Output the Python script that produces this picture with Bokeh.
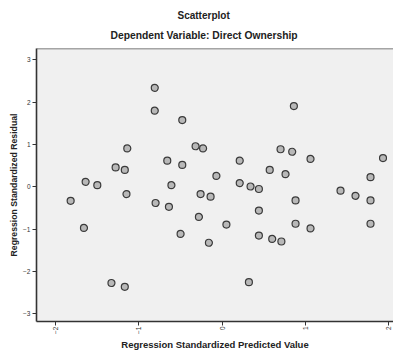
import math
from bokeh.plotting import figure
from bokeh.models import FixedTicker, Title, Range1d, Span
from bokeh.embed import file_html
from bokeh.resources import INLINE

# Data (standardized predicted value vs residual)
pred = [-0.81, -0.81, -0.48, -1.14, -0.32, -0.23, -0.66, -1.28, -1.17, -0.48,
        -0.07, -1.64, -1.50, -0.61, -1.82, -1.15, -0.26, -0.14, -0.80, -0.64,
        0.86, 0.70, 0.84, 1.06, 1.93, 0.21, 0.57, 0.76, 1.78, 0.21,
        0.34, 0.44, 1.42, 1.60, 1.78, 0.88, 0.44, -0.28, -1.66, -0.50,
        -0.16, 0.05, 0.44, 0.60, 0.71, 0.88, 1.06, 1.78, -1.33, -1.17, 0.32]
resid = [2.34, 1.80, 1.58, 0.91, 0.96, 0.91, 0.62, 0.46, 0.40, 0.52,
         0.26, 0.12, 0.04, 0.04, -0.33, -0.17, -0.17, -0.23, -0.38, -0.47,
         1.91, 0.89, 0.83, 0.66, 0.68, 0.62, 0.40, 0.30, 0.23, 0.09,
         0.01, -0.05, -0.09, -0.21, -0.32, -0.32, -0.56, -0.71, -0.97, -1.11,
         -1.32, -0.89, -1.15, -1.23, -1.29, -0.87, -0.98, -0.87, -2.27, -2.36, -2.25]
x_ticks = [-2, -1, 0, 1, 2]
y_ticks = [-3, -2, -1, 0, 1, 2, 3]
title_text = "Scatterplot"
subtitle_text = "Dependent Variable: Direct Ownership"
x_label = "Regression Standardized Predicted Value"
y_label = "Regression Standardized Residual"

FONT = "Liberation Sans"
Y_TOP = 3.27

p = figure(width=393, height=352, output_backend="svg", toolbar_location=None,
           x_range=Range1d(-2.23, 2.056), y_range=Range1d(-3.18, Y_TOP),
           min_border_left=36, min_border_right=0, min_border_top=48, min_border_bottom=30)

p.background_fill_color = "#f0f0f0"
p.border_fill_color = "white"
p.outline_line_color = None
p.xgrid.visible = False
p.ygrid.visible = False
p.add_layout(Span(location=Y_TOP, dimension="width", line_color="#555555", line_width=1.5))

sub = Title(text=subtitle_text, align="left", text_font=FONT, text_font_size="10.3px",
            text_font_style="bold", text_color="#222222", offset=74, standoff=15)
p.add_layout(sub, "above")
ttl = Title(text=title_text, align="left", text_font=FONT, text_font_size="10px",
            text_font_style="bold", text_color="#222222", offset=141, standoff=-1)
p.add_layout(ttl, "above")

for ax in (p.xaxis[0], p.yaxis[0]):
    ax.axis_line_color = "#333333"
    ax.axis_line_width = 1.6
    ax.major_tick_line_color = "#333333"
    ax.major_tick_in = 0
    ax.major_tick_out = 4
    ax.minor_tick_line_color = None
    ax.major_label_text_font = FONT
    ax.major_label_text_font_size = "6.5px"
    ax.major_label_text_color = "#333333"
    ax.axis_label_text_font = FONT
    ax.axis_label_text_font_style = "bold"
    ax.axis_label_text_color = "#222222"

p.xaxis.axis_label_text_font_size = "9.5px"
p.yaxis.axis_label_text_font_size = "8.7px"
p.xaxis.ticker = FixedTicker(ticks=x_ticks)
p.yaxis.ticker = FixedTicker(ticks=y_ticks)
p.xaxis.major_label_orientation = math.pi / 2
p.xaxis.major_label_standoff = 1
p.yaxis.major_label_standoff = 2
p.xaxis.axis_label = x_label
p.yaxis.axis_label = y_label
p.xaxis.axis_label_standoff = 2
p.yaxis.axis_label_standoff = 1

p.scatter(pred, resid, size=7, fill_color="#b8b8b8", line_color="#3a3a3a", line_width=1.2)

open("out.html", "w").write(file_html(p, INLINE))
